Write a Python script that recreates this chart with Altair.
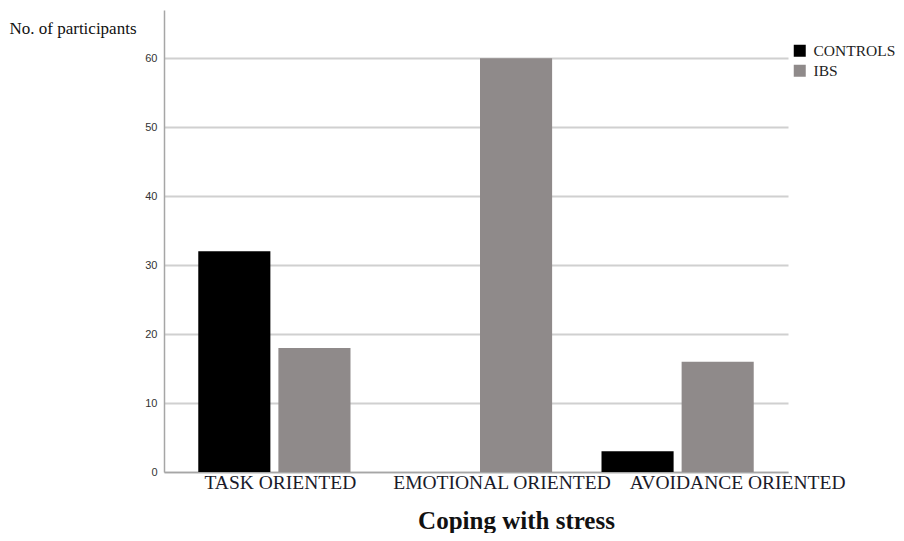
import altair as alt
import pandas as pd

categories = ["TASK ORIENTED", "EMOTIONAL ORIENTED", "AVOIDANCE ORIENTED"]
groups = ["CONTROLS", "IBS"]
controls = [32, 0, 3]
ibs = [18, 60, 16]
y_ticks = [0, 10, 20, 30, 40, 50, 60]

rows = []
for c, v1, v2 in zip(categories, controls, ibs):
    rows.append({"category": c, "group": groups[0], "value": v1})
    rows.append({"category": c, "group": groups[1], "value": v2})
df = pd.DataFrame(rows)

label_offset_expr = (
    "datum.value == 'TASK ORIENTED' ? 6 : "
    "datum.value == 'EMOTIONAL ORIENTED' ? 26 : 60"
)

chart = alt.Chart(df).mark_bar().encode(
    x=alt.X(
        "category:N",
        sort=categories,
        scale=alt.Scale(paddingInner=0.245, paddingOuter=0.17),
        axis=alt.Axis(
            title="Coping with stress",
            titleFont="Liberation Serif",
            titleFontSize=25,
            titleFontWeight="bold",
            titleColor="#111111",
            titleX=352,
            titleY=56,
            titleAlign="center",
            titleBaseline="alphabetic",
            labelAngle=0,
            ticks=False,
            grid=False,
            labelFont="Liberation Serif",
            labelFontSize=19.5,
            labelColor="#1a1a2a",
            labelPadding=1,
            labelLimit=0,
            labelOverlap=False,
            labelBound=False,
            labelFlush=False,
            labelOffset=alt.ExprRef(label_offset_expr),
            domainColor="#a6a6a6",
            domainWidth=1.5,
        ),
    ),
    xOffset=alt.XOffset(
        "group:N", sort=groups, scale=alt.Scale(paddingInner=0.1, paddingOuter=0)
    ),
    y=alt.Y(
        "value:Q",
        scale=alt.Scale(domain=[0, 67], nice=False),
        axis=alt.Axis(
            values=y_ticks,
            title="No. of participants",
            titleAngle=0,
            titleX=-155,
            titleY=18,
            titleAlign="left",
            titleBaseline="middle",
            titleFont="Liberation Serif",
            titleFontSize=17,
            titleFontWeight="normal",
            titleColor="#111111",
            ticks=False,
            labelPadding=7,
            labelFont="Liberation Sans",
            labelFontSize=11,
            labelColor="#333333",
            gridColor="#d0d0d0",
            gridWidth=1.8,
            domainColor="#a6a6a6",
            domainWidth=1.5,
        ),
    ),
    color=alt.Color(
        "group:N",
        sort=groups,
        scale=alt.Scale(domain=groups, range=["#000000", "#8f8a8a"]),
        legend=alt.Legend(
            title=None,
            orient="none",
            legendX=628,
            legendY=33,
            symbolType="square",
            symbolSize=144,
            symbolStrokeWidth=0,
            symbolOpacity=1,
            labelFont="Liberation Serif",
            labelFontSize=15.5,
            labelColor="#222222",
            labelOffset=6,
            labelLimit=0,
            rowPadding=3,
            padding=0,
        ),
    ),
).properties(
    width=624,
    height=462,
    background="white",
    autosize=alt.AutoSizeParams(type="none"),
    padding={"left": 156, "top": 2, "right": 108, "bottom": 61},
).configure_view(stroke=None)

chart.save("out.html", embed_options={"renderer": "svg", "actions": False})
